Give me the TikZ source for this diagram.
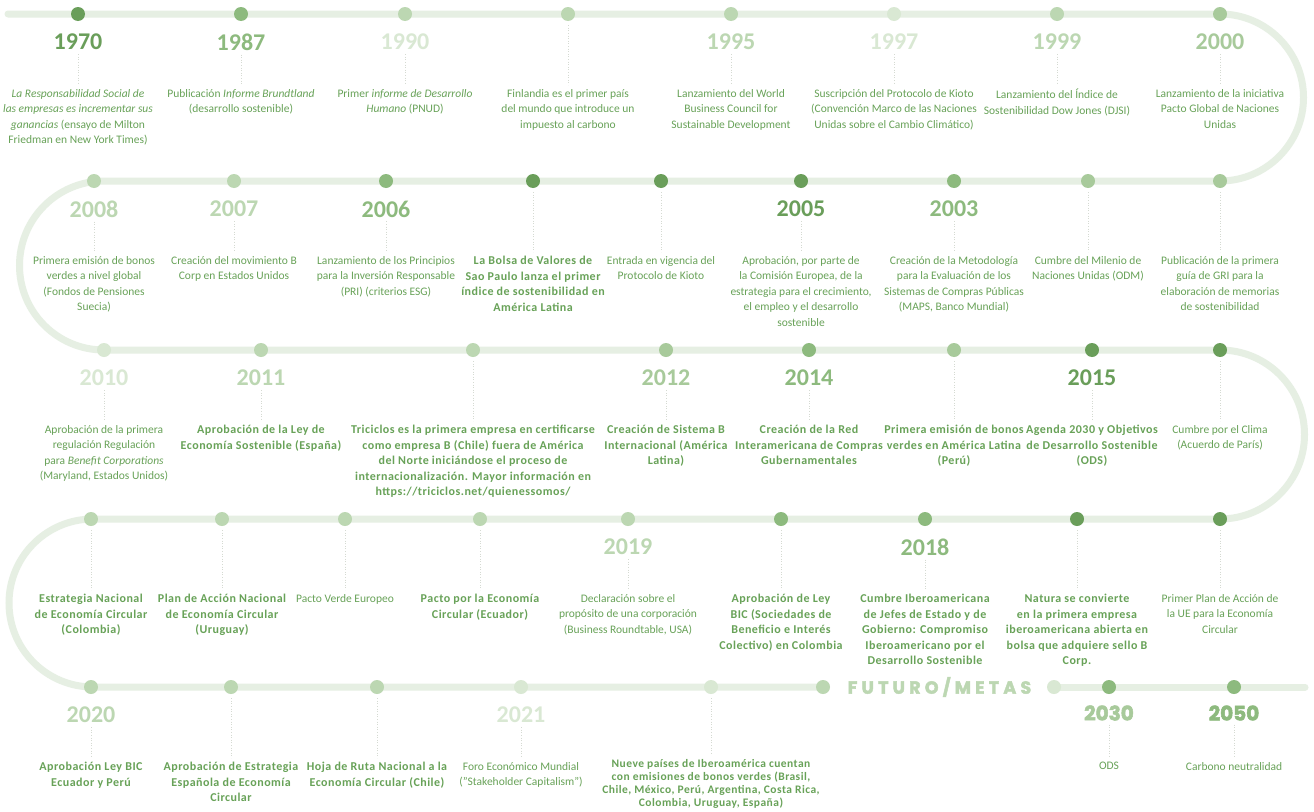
\documentclass[tikz,border=0pt]{standalone}
\usepackage{fontspec}
\setmainfont{Carlito}
\newfontfamily\bdfont{Carlito}[LetterSpace=4]
\newfontfamily\popb{Poppins Bold}[FakeBold=2.5]
\newfontfamily\futfont{Poppins Bold}[LetterSpace=24,FakeBold=2.5]
\definecolor{trk}{HTML}{E6EFE3}
\definecolor{dk}{HTML}{6A9E5A}
\definecolor{md}{HTML}{8DBA7E}
\definecolor{ml}{HTML}{A8CA9B}
\definecolor{lt}{HTML}{BCD7B2}
\definecolor{vl}{HTML}{D9E8D3}
\definecolor{txt}{HTML}{68A258}
\definecolor{dotl}{HTML}{D5DAD2}
\tikzset{
  track/.style={draw=trk, line width=7pt, line cap=round},
  dot/.style={circle, minimum size=14pt, inner sep=0pt, draw=none},
  yr/.style={inner sep=0pt, font=\fontsize{24}{24}\selectfont\bfseries},
  yrb/.style={inner sep=0pt, font=\popb\fontsize{20}{20}\selectfont},
  desc/.style={anchor=north, inner sep=0pt, align=center, text=txt, font=\fontsize{11.5}{15.5}\selectfont},
  bd/.style={font=\bdfont\fontsize{12}{15.5}\selectfont\bfseries},
  nb/.style={},
  conn/.style={draw=dotl, line width=0.6pt, dotted, shorten <=4pt, shorten >=4pt}
}
\newcommand\evy[8]{%
  \node[dot,fill=#4] (#1) at (#2,-#3) {};
  \node[yr,text=#6] (#1y) at (#2,-#3-28) {#5};
  \node[desc,#7] (#1t) at (#2,-#3-75) {#8};
  \draw[conn] (#1y.south) -- (#1t.north);
}
\newcommand\evn[6]{%
  \node[dot,fill=#4] (#1) at (#2,-#3) {};
  \node[desc,#5] (#1t) at (#2,-#3-75) {#6};
  \draw[conn] (#1.south) -- (#1t.north);
}
\begin{document}
\begin{tikzpicture}[x=1pt,y=1pt]
\useasboundingbox (0,0) rectangle (1314,-811);
\fill[white] (0,0) rectangle (1314,-811);
% track
\draw[track] (8,-14) -- (1220,-14) arc[start angle=90, end angle=-90, radius=83.5]
  -- (104,-181) arc[start angle=90, end angle=270, radius=84.5]
  -- (1220,-350) arc[start angle=90, end angle=-90, radius=84.5]
  -- (93,-519) arc[start angle=90, end angle=270, radius=84]
  -- (823,-687);
\draw[track] (1054,-687) -- (1305,-687);
% row 1
\evy{a1}{78}{14}{dk}{1970}{dk}{nb}{\textit{La Responsabilidad Social de}\\\textit{las empresas es incrementar sus}\\\textit{ganancias} (ensayo de Milton\\Friedman en New York Times)}
\evy{a2}{241}{14}{md}{1987}{md}{nb}{Publicación \textit{Informe Brundtland}\\(desarrollo sostenible)}
\evy{a3}{405}{14}{lt}{1990}{vl}{nb}{Primer \textit{informe de Desarrollo}\\\textit{Humano} (PNUD)}
\evn{a4}{568}{14}{lt}{nb}{Finlandia es el primer país\\del mundo que introduce un\\impuesto al carbono}
\evy{a5}{731}{14}{lt}{1995}{lt}{nb}{Lanzamiento del World\\Business Council for\\Sustainable Development}
\evy{a6}{894}{14}{vl}{1997}{vl}{nb}{Suscripción del Protocolo de Kioto\\(Convención Marco de las Naciones\\Unidas sobre el Cambio Climático)}
\evy{a7}{1057}{14}{lt}{1999}{lt}{nb}{Lanzamiento del Índice de\\Sostenibilidad Dow Jones (DJSI)}
\evy{a8}{1220}{14}{ml}{2000}{ml}{nb}{Lanzamiento de la iniciativa\\Pacto Global de Naciones\\Unidas}
% row 2
\evy{b1}{94}{181}{lt}{2008}{lt}{nb}{Primera emisión de bonos\\verdes a nivel global\\(Fondos de Pensiones\\Suecia)}
\evy{b2}{234}{181}{lt}{2007}{lt}{nb}{Creación del movimiento B\\Corp en Estados Unidos}
\evy{b3}{386}{181}{md}{2006}{md}{nb}{Lanzamiento de los Principios\\para la Inversión Responsable\\(PRI) (criterios ESG)}
\evn{b4}{533}{181}{dk}{bd}{La Bolsa de Valores de\\Sao Paulo lanza el primer\\índice de sostenibilidad en\\América Latina}
\evn{b5}{661}{181}{dk}{nb}{Entrada en vigencia del\\Protocolo de Kioto}
\evy{b6}{801}{181}{dk}{2005}{dk}{nb}{Aprobación, por parte de\\la Comisión Europea, de la\\estrategia para el crecimiento,\\el empleo y el desarrollo\\sostenible}
\evy{b7}{954}{181}{md}{2003}{md}{nb}{Creación de la Metodología\\para la Evaluación de los\\Sistemas de Compras Públicas\\(MAPS, Banco Mundial)}
\evn{b8}{1088}{181}{ml}{nb}{Cumbre del Milenio de\\Naciones Unidas (ODM)}
\evn{b9}{1220}{181}{ml}{nb}{Publicación de la primera\\guía de GRI para la\\elaboración de memorias\\de sostenibilidad}
% row 3
\evy{c1}{104}{350}{vl}{2010}{vl}{nb}{Aprobación de la primera\\regulación Regulación\\para \textit{Benefit Corporations}\\(Maryland, Estados Unidos)}
\evy{c2}{261}{350}{lt}{2011}{lt}{bd}{Aprobación de la Ley de\\Economía Sostenible (España)}
\evn{c3}{473}{350}{lt}{bd}{Triciclos es la primera empresa en certificarse\\como empresa B (Chile) fuera de América\\del Norte iniciándose el proceso de\\internacionalización. Mayor información en\\https://triciclos.net/quienessomos/}
\evy{c4}{666}{350}{ml}{2012}{ml}{bd}{Creación de Sistema B\\Internacional (América\\Latina)}
\evy{c5}{809}{350}{md}{2014}{md}{bd}{Creación de la Red\\Interamericana de Compras\\Gubernamentales}
\evn{c6}{954}{350}{ml}{bd}{Primera emisión de bonos\\verdes en América Latina\\(Perú)}
\evy{c7}{1092}{350}{dk}{2015}{dk}{bd}{Agenda 2030 y Objetivos\\de Desarrollo Sostenible\\(ODS)}
\evn{c8}{1220}{350}{dk}{nb}{Cumbre por el Clima\\(Acuerdo de París)}
% row 4
\evn{d1}{91}{519}{lt}{bd}{Estrategia Nacional\\de Economía Circular\\(Colombia)}
\evn{d2}{222}{519}{lt}{bd}{Plan de Acción Nacional\\de Economía Circular\\(Uruguay)}
\evn{d3}{345}{519}{lt}{nb}{Pacto Verde Europeo}
\evn{d4}{480}{519}{lt}{bd}{Pacto por la Economía\\Circular (Ecuador)}
\evy{d5}{628}{519}{lt}{2019}{lt}{nb}{Declaración sobre el\\propósito de una corporación\\(Business Roundtable, USA)}
\evn{d6}{781}{519}{md}{bd}{Aprobación de Ley\\BIC (Sociedades de\\Beneficio e Interés\\Colectivo) en Colombia}
\evy{d7}{925}{519}{md}{2018}{md}{bd}{Cumbre Iberoamericana\\de Jefes de Estado y de\\Gobierno: Compromiso\\Iberoamericano por el\\Desarrollo Sostenible}
\evn{d8}{1077}{519}{dk}{bd}{Natura se convierte\\en la primera empresa\\iberoamericana abierta en\\bolsa que adquiere sello B\\Corp.}
\evn{d9}{1220}{519}{dk}{nb}{Primer Plan de Acción de\\la UE para la Economía\\Circular}
% row 5
\evy{e1}{91}{687}{lt}{2020}{lt}{bd}{Aprobación Ley BIC\\Ecuador y Perú}
\evn{e2}{231}{687}{lt}{bd}{Aprobación de Estrategia\\Española de Economía\\Circular}
\evn{e3}{377}{687}{lt}{bd}{Hoja de Ruta Nacional a la\\Economía Circular (Chile)}
\evy{e4}{521}{687}{vl}{2021}{vl}{nb}{Foro Económico Mundial\\("Stakeholder Capitalism")}
\node[dot,fill=vl] (e5) at (711,-687) {};
\node[desc, font=\bdfont\fontsize{11.5}{13.2}\selectfont\bfseries] (e5t) at (711,-759) {Nueve países de Iberoamérica cuentan\\con emisiones de bonos verdes (Brasil,\\Chile, México, Perú, Argentina, Costa Rica,\\Colombia, Uruguay, España)};
\draw[conn] (e5.south) -- (e5t.north);
\node[dot,fill=lt] (f1) at (823,-687) {};
\node[dot,fill=vl] (f2) at (1054,-687) {};
\node[inner sep=0pt, text=lt, font=\futfont\fontsize{17.5}{17.5}\selectfont] (fut) at (939.5,-687) {FUTURO/METAS};
\node[dot,fill=md] (g1) at (1109,-687) {};
\node[yrb,text=ml] (g1y) at (1109,-713) {2030};
\node[desc] (g1t) at (1109,-762) {ODS};
\draw[conn] (g1y.south) -- (g1t.north);
\node[dot,fill=md] (g2) at (1234,-687) {};
\node[yrb,text=md] (g2y) at (1234,-713) {2050};
\node[desc] (g2t) at (1234,-762) {Carbono neutralidad};
\draw[conn] (g2y.south) -- (g2t.north);
\end{tikzpicture}
\end{document}
